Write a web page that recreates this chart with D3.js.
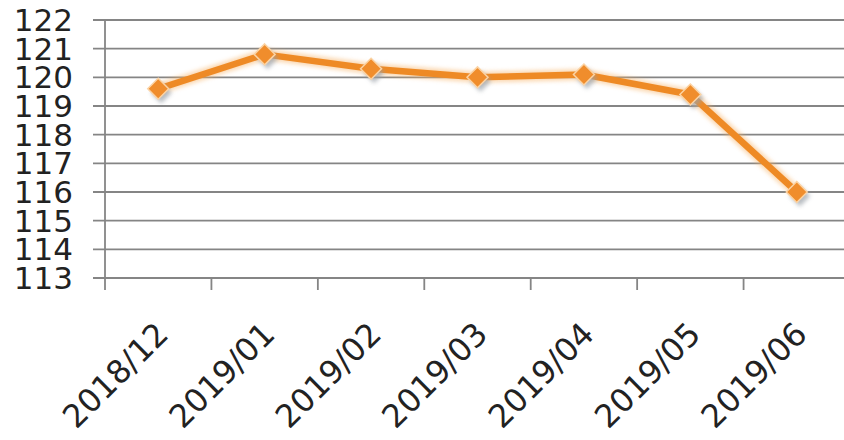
<!DOCTYPE html>
<html>
<head>
<meta charset="utf-8">
<script src="https://cdn.jsdelivr.net/npm/d3@7"></script>
<style>
  html, body { margin: 0; padding: 0; background: #fff; }
  svg { display: block; }
</style>
</head>
<body>
<svg id="chart" width="844" height="440"></svg>
<script>
// Monthly index values
const months = ["2018/12", "2019/01", "2019/02", "2019/03", "2019/04", "2019/05", "2019/06"];
const values = [119.6, 120.8, 120.3, 120.0, 120.1, 119.4, 116.0];
const yTicks = [113, 114, 115, 116, 117, 118, 119, 120, 121, 122];

const svg = d3.select("#chart");
const W = 844, H = 440;
const plotLeft = 105, plotRight = 850, plotTop = 20, plotBottom = 278;

const x = d3.scaleBand().domain(months).range([plotLeft, plotRight]);
const y = d3.scaleLinear().domain([113, 122]).range([plotBottom, plotTop]);

const defs = svg.append("defs");
defs.append("filter").attr("id", "soft")
  .attr("x", "-50%").attr("y", "-50%").attr("width", "200%").attr("height", "200%")
  .append("feGaussianBlur").attr("stdDeviation", 2);

// Horizontal gridlines
svg.append("g").selectAll("line").data(yTicks).join("line")
  .attr("x1", 93).attr("x2", W)
  .attr("y1", d => y(d)).attr("y2", d => y(d))
  .attr("stroke", "#858585").attr("stroke-width", 1.8);

// Y axis line
svg.append("line")
  .attr("x1", plotLeft).attr("x2", plotLeft).attr("y1", plotTop).attr("y2", plotBottom + 12)
  .attr("stroke", "#858585").attr("stroke-width", 1.8);

// Category boundary ticks
const bounds = months.map(m => x(m)).concat([x(months[months.length - 1]) + x.bandwidth()]);
svg.append("g").selectAll("line").data(bounds.slice(1)).join("line")
  .attr("x1", d => d).attr("x2", d => d)
  .attr("y1", plotBottom).attr("y2", plotBottom + 12)
  .attr("stroke", "#858585").attr("stroke-width", 1.8);

// Y tick labels
svg.append("g").selectAll("text").data(yTicks).join("text")
  .attr("x", 73).attr("y", d => y(d)).attr("dy", "0.36em")
  .attr("text-anchor", "end")
  .attr("font-family", "DejaVu Sans, Verdana, sans-serif")
  .attr("font-size", 31).attr("fill", "#222")
  .text(d => d);

// X category labels, rotated
svg.append("g").selectAll("text").data(months).join("text")
  .attr("transform", d => `translate(${x(d) + x.bandwidth() / 2 + 12},336) rotate(-45)`)
  .attr("text-anchor", "end")
  .attr("font-family", "DejaVu Sans, Verdana, sans-serif")
  .attr("font-size", 32).attr("fill", "#222")
  .text(d => d);

const cx = (d, i) => x(months[i]) + x.bandwidth() / 2;
const line = d3.line().x((d, i) => cx(d, i)).y(d => y(d));

// Soft glow under the line
svg.append("path").datum(values)
  .attr("d", line).attr("fill", "none")
  .attr("stroke", "#f7b062").attr("stroke-width", 11).attr("opacity", 0.5)
  .attr("filter", "url(#soft)");

svg.append("path").datum(values)
  .attr("d", line).attr("fill", "none")
  .attr("stroke", "#ee8a25").attr("stroke-width", 6.5)
  .attr("stroke-linejoin", "round");

// Diamond markers with a drop shadow
const diamond = d3.symbol().type(d3.symbolDiamond2).size(280);
const marks = svg.append("g").selectAll("g").data(values).join("g")
  .attr("transform", (d, i) => `translate(${cx(d, i)},${y(d)})`);
marks.append("path").attr("d", diamond)
  .attr("transform", "translate(3,4)")
  .attr("fill", "#9aa0a8").attr("opacity", 0.7).attr("filter", "url(#soft)");
marks.append("path").attr("d", diamond)
  .attr("fill", "#f08d2c").attr("stroke", "#fbd3a4").attr("stroke-width", 1.5);
</script>
</body>
</html>
